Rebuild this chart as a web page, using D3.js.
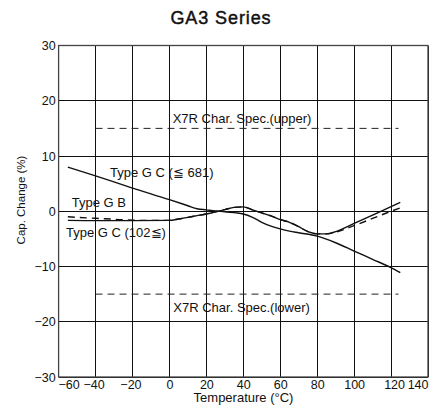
<!DOCTYPE html>
<html>
<head>
<meta charset="utf-8">
<script src="https://cdn.jsdelivr.net/npm/d3@7"></script>
<style>
  html, body { margin: 0; padding: 0; background: #fff; }
  svg { display: block; font-family: "Liberation Sans", Arial, Helvetica, sans-serif; }
</style>
</head>
<body>
<svg id="chart" width="433" height="411"></svg>
<script>
// ---- data ----
const xTickValues = [-60, -40, -20, 0, 20, 40, 60, 80, 100, 120, 140];
const yTickValues = [-30, -20, -10, 0, 10, 20, 30];

const tempGC681 = [-55, -40, -20, 0, 10, 15, 20, 25, 30, 40, 45, 50, 55, 60, 65, 70, 80, 90, 100, 110, 120, 125];
const capGC681  = [8.0, 6.4, 4.2, 2.1, 1.0, 0.45, 0.25, 0.05, -0.1, -0.5, -1.1, -2.0, -2.7, -3.2, -3.6, -3.9, -4.5, -5.7, -7.2, -8.7, -10.2, -11.1];

const tempGC102 = [-55, -40, -20, 0, 5, 10, 15, 20, 25, 30, 35, 40, 45, 50, 55, 60, 65, 70, 75, 80, 85, 90, 100, 110, 120, 125];
const capGC102  = [-1.65, -1.7, -1.7, -1.65, -1.4, -1.1, -0.8, -0.5, -0.1, 0.3, 0.7, 0.8, 0.25, -0.3, -0.85, -1.5, -2.0, -2.8, -3.7, -4.1, -4.1, -3.7, -2.2, -0.7, 0.85, 1.6];

const tempGB = [-55, -45, -35, -25, -15, 0, 5, 10, 15, 20, 25, 30, 35, 40, 45, 50, 55, 60, 65, 70, 75, 80, 85, 90, 100, 110, 120, 125];
const capGB  = [-1.0, -1.2, -1.35, -1.55, -1.65, -1.65, -1.4, -1.1, -0.8, -0.5, -0.1, 0.3, 0.7, 0.8, 0.25, -0.3, -0.85, -1.5, -2.0, -2.8, -3.7, -4.1, -4.1, -3.8, -2.6, -1.3, 0.0, 0.6];

const specTemps = [-40, 124];
const specUpper = 15;
const specLower = -15;

const title = "GA3 Series";
const xTitle = "Temperature (°C)";
const yTitle = "Cap. Change (%)";

// ---- layout ----
const svg = d3.select("#chart");
const pLeft = 58.6, pRight = 428, pTop = 45.5, pBottom = 377;
const x = d3.scaleLinear().domain([-60, 140]).range([pLeft, pRight]);
const y = d3.scaleLinear().domain([-30, 30]).range([pBottom, pTop]);
const fmt = v => (v < 0 ? "\u2212" + Math.abs(v) : String(v));

// grid
const grid = svg.append("g").attr("stroke", "#111").attr("stroke-width", 1).attr("shape-rendering", "crispEdges");
grid.selectAll("line.v").data(xTickValues).join("line").attr("class", "v")
  .attr("x1", d => x(d)).attr("x2", d => x(d)).attr("y1", pTop).attr("y2", pBottom);
grid.selectAll("line.h").data(yTickValues).join("line").attr("class", "h")
  .attr("x1", pLeft).attr("x2", pRight).attr("y1", d => y(d)).attr("y2", d => y(d));

// frame
svg.append("rect").attr("x", pLeft).attr("y", pTop).attr("width", pRight - pLeft).attr("height", pBottom - pTop)
  .attr("fill", "none").attr("stroke", "#444").attr("stroke-width", 1.3);

// axes tick labels via d3 axes (domain/ticks hidden)
const xAxis = d3.axisBottom(x).tickValues(xTickValues).tickSize(0).tickPadding(0).tickFormat(fmt);
const gx = svg.append("g").attr("transform", `translate(0,${pBottom})`).call(xAxis);
gx.select(".domain").remove();
gx.attr("font-family", null);
gx.selectAll("text").attr("font-size", 12.5).attr("fill", "#111")
  .attr("dy", null)
  .each(function(d) {
    const t = d3.select(this);
    t.attr("y", 11.5);
    if (d === -60) t.attr("x", 10);
    if (d === 140) t.attr("text-anchor", "end").attr("x", 0);
    if (d === 120) t.attr("x", 3);
    if (d < 0 && d !== -60) t.attr("x", -2);
  });

const yAxis = d3.axisLeft(y).tickValues(yTickValues).tickSize(0).tickPadding(3).tickFormat(fmt);
const gy = svg.append("g").attr("transform", `translate(${pLeft},0)`).call(yAxis);
gy.select(".domain").remove();
gy.attr("font-family", null);
gy.selectAll("text").attr("font-size", 12.5).attr("fill", "#111");

// titles
svg.append("text").attr("x", 221).attr("y", 23.5).attr("text-anchor", "middle")
  .attr("font-size", 18).attr("letter-spacing", 0.9).attr("fill", "#111")
  .attr("stroke", "#111").attr("stroke-width", 0.45).text(title);
svg.append("text").attr("x", 243.5).attr("y", 402).attr("text-anchor", "middle")
  .attr("font-size", 13).attr("fill", "#111").text(xTitle);
svg.append("text").attr("transform", "translate(25,200) rotate(-90)").attr("text-anchor", "middle")
  .attr("font-size", 11.5).attr("fill", "#111").text(yTitle);

// spec lines
const specG = svg.append("g").attr("stroke", "#222").attr("stroke-width", 1).attr("stroke-dasharray", "7,5");
[specUpper, specLower].forEach(v => {
  specG.append("line").attr("x1", x(specTemps[0])).attr("x2", x(specTemps[1]))
    .attr("y1", y(v)).attr("y2", y(v));
});

// curves
const line = d3.line().x(d => x(d[0])).y(d => y(d[1])).curve(d3.curveMonotoneX);
const zip = (a, b) => a.map((t, i) => [t, b[i]]);
svg.append("path").datum(zip(tempGB, capGB)).attr("d", line)
  .attr("fill", "none").attr("stroke", "#111").attr("stroke-width", 1.4).attr("stroke-dasharray", "7,5");
svg.append("path").datum(zip(tempGC102, capGC102)).attr("d", line)
  .attr("fill", "none").attr("stroke", "#111").attr("stroke-width", 1.4);
svg.append("path").datum(zip(tempGC681, capGC681)).attr("d", line)
  .attr("fill", "none").attr("stroke", "#111").attr("stroke-width", 1.4);

// annotations
const ann = [
  { text: "X7R Char. Spec.(upper)", x: 172.7, y: 122.7 },
  { text: "X7R Char. Spec.(lower)", x: 173.3, y: 311.7 },
  { text: "Type G C (\u2266 681)", x: 110, y: 177.3 },
  { text: "Type G B", x: 71.7, y: 206.7 },
  { text: "Type G C (102\u2266)", x: 66, y: 237.3 }
];
svg.append("g").selectAll("text").data(ann).join("text")
  .attr("x", d => d.x).attr("y", d => d.y).attr("font-size", 13).attr("fill", "#111")
  .text(d => d.text);
</script>
</body>
</html>
